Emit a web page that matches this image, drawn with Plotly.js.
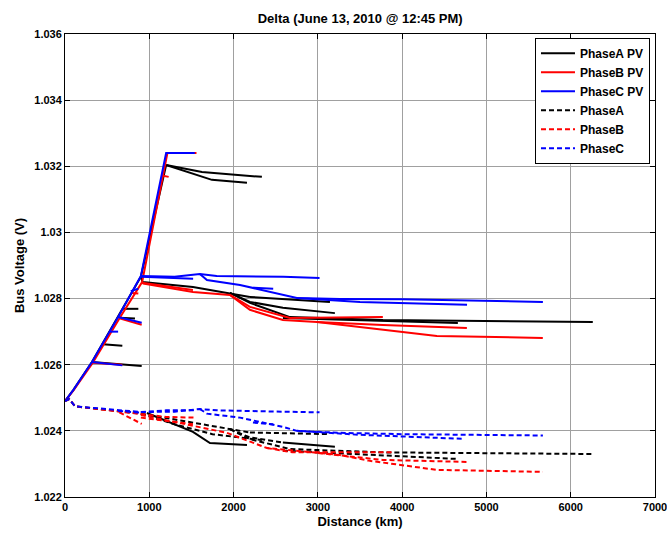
<!DOCTYPE html>
<html>
<head>
<meta charset="utf-8">
<script src="https://cdn.plot.ly/plotly-3.0.1.min.js"></script>
<style>html,body{margin:0;padding:0;background:#fff;}#chart{width:667px;height:535px;}</style>
</head>
<body>
<div id="chart"></div>
<script>
// ---- Data (distance km, bus voltage V); null separates feeder branches ----
var pvA_x = [0,100,320,630,900,1200, null, 1200,1625,2336, null, 1200,1743,2159, null, 900,920,1518,1957,2194, null, 2194,2704,3143, null, 1957,2194,2585,3202, null, 1957,2194,2669,3771,6262, null, 2585,4661, null, 320,910, null, 450,680, null, 690,870, null, 640,830];
var pvA_y = [1.0249,1.02524,1.02608,1.02744,1.02866,1.03204, null, 1.03204,1.03183,1.03168, null, 1.03204,1.03159,1.0315, null, 1.02866,1.0285,1.02835,1.02817,1.02805, null, 1.02805,1.02796,1.0279, null, 1.02817,1.0279,1.02772,1.02756, null, 1.02817,1.02787,1.02744,1.02735,1.02729, null, 1.02741,1.02726, null, 1.02608,1.02596, null, 1.02662,1.02657, null, 1.02769,1.02769, null, 1.02742,1.0274];

var pvB_x = [0,100,330,645,915,1215,1560, null, 915,930,1518,1957,2194,2585,2989,3499,4412,5669, null, 2989,3771,4768, null, 1957,2194,2669,3771, null, 915,1518, null, 330,680, null, 645,910, null, 790,870, null, 1150,1230];
var pvB_y = [1.0249,1.02522,1.02606,1.0274,1.0285,1.0324,1.0324, null, 1.0285,1.02845,1.0282,1.02811,1.02766,1.02735,1.02729,1.02714,1.02687,1.02681, null, 1.02729,1.0272,1.02711, null, 1.02811,1.02775,1.02741,1.02744, null, 1.02848,1.02826, null, 1.02606,1.026, null, 1.0274,1.02721, null, 1.02817,1.02815, null, 1.03172,1.03168];

var pvC_x = [0,100,320,630,900,1200,1540, null, 900,1300,1600,1800,2590,3020, null, 1600,1684,2076,2585,2751,3261,4000,5670, null, 2751,3500,4770, null, 900,1520, null, 2230,2470, null, 320,680, null, 530,630, null, 630,910, null, 780,870];
var pvC_y = [1.0249,1.02524,1.02608,1.02744,1.02868,1.0324,1.0324, null, 1.02868,1.02866,1.02874,1.02868,1.02866,1.02862, null, 1.02874,1.02856,1.02841,1.02811,1.02802,1.02799,1.02798,1.0279, null, 1.02802,1.0279,1.02781, null, 1.02866,1.0286, null, 1.02833,1.0283, null, 1.02608,1.02598, null, 1.027,1.027, null, 1.02744,1.02727, null, 1.02822,1.0283];

var A_x = [0,50,120,900, null, 900,1300,1750,2336, null, 900,1518,1957,2194, null, 2194,2704,3143, null, 1957,2194,2585, null, 1957,2194,2669,3771,6262, null, 2585,4661];
var A_y = [1.0249,1.02496,1.02474,1.02452, null, 1.02452,1.0242,1.0239,1.02372, null, 1.02452,1.02425,1.02405,1.02395, null, 1.02395,1.02392,1.0239, null, 1.02405,1.0238,1.02365, null, 1.02405,1.02375,1.02345,1.02335,1.0233, null, 1.0234,1.02315];
var Adense_x = [972,1518,1720,2159, null, 2585,3202];
var Adense_y = [1.02454,1.02397,1.02363,1.02357, null, 1.02365,1.02352];

var B_x = [0,50,120,900,1200,1540, null, 900,1482,1921,2396,2700,3261,3600,4412,5669, null, 2396,2700,3890, null, 3000,3771,4768, null, 900,1518, null, 645,910];
var B_y = [1.0249,1.02496,1.02474,1.0245,1.02442,1.0244, null, 1.02448,1.02418,1.02394,1.02348,1.0234,1.02327,1.0231,1.02282,1.02276, null, 1.02348,1.02335,1.02335, null, 1.02333,1.02312,1.02306, null, 1.0244,1.0242, null, 1.02456,1.02421];

var C_x = [0,50,120,900,1200,1540, null, 900,1300,1600,1800,2590,3020, null, 1600,1684,2076,2585,2751,3261,4000,5670, null, 2751,3500,4720, null, 2230,2470, null, 630,910];
var C_y = [1.0249,1.02496,1.02474,1.02457,1.02462,1.02462, null, 1.02457,1.02458,1.02466,1.02462,1.02458,1.02456, null, 1.02466,1.02452,1.0244,1.02412,1.024,1.02394,1.0239,1.02386, null, 1.024,1.02388,1.02376, null, 1.02425,1.0242, null, 1.0246,1.02455];

var xTicks = [0,1000,2000,3000,4000,5000,6000,7000];
var xTickText = ['0','1000','2000','3000','4000','5000','6000','7000'];
var yTicks = [1.022,1.024,1.026,1.028,1.03,1.032,1.034,1.036];
var yTickText = ['1.022','1.024','1.026','1.028','1.03','1.032','1.034','1.036'];

var seriesNames = ['PhaseA PV','PhaseB PV','PhaseC PV','PhaseA','PhaseB','PhaseC'];

// ---- Styles ----
var FONT = 'Liberation Sans, Arial, Helvetica, sans-serif';
var DASH = '5px,3px';
var LW = 2;
function tr(x, y, name, color, dash, show) {
  return {x: x, y: y, name: name, type: 'scatter', mode: 'lines',
    connectgaps: false, showlegend: show !== false, hoverinfo: 'skip',
    line: {color: color, width: LW, dash: dash}};
}
var traces = [
  tr(pvA_x, pvA_y, seriesNames[0], '#000000', 'solid'),
  tr(pvB_x, pvB_y, seriesNames[1], '#ff0000', 'solid'),
  tr(pvC_x, pvC_y, seriesNames[2], '#0000ff', 'solid'),
  tr(A_x, A_y, seriesNames[3], '#000000', DASH),
  tr(Adense_x, Adense_y, seriesNames[3], '#000000', 'solid', false),
  tr(B_x, B_y, seriesNames[4], '#ff0000', DASH),
  tr(C_x, C_y, seriesNames[5], '#0000ff', DASH)
];

var axisCommon = {
  showline: true, linecolor: '#000', linewidth: 1, mirror: 'ticks',
  ticks: 'inside', ticklen: 5, tickcolor: '#000', tickwidth: 1,
  showgrid: true, gridcolor: '#a0a0a0', gridwidth: 1, zeroline: false,
  ticklabeloverflow: 'allow',
  tickfont: {family: FONT, size: 11, color: '#000', weight: 'bold'}
};
var layout = {
  width: 667, height: 535,
  margin: {l: 65, r: 12, t: 34, b: 38},
  paper_bgcolor: '#fff', plot_bgcolor: '#fff',
  title: {text: 'Delta (June 13, 2010 @ 12:45 PM)', x: 0.54, xanchor: 'center',
    y: 1 - 18/535, yanchor: 'middle',
    font: {family: FONT, size: 13, color: '#000', weight: 'bold'}},
  xaxis: Object.assign({}, axisCommon, {
    range: [0, 7000], tickvals: xTicks, ticktext: xTickText, automargin: false,
    title: {text: 'Distance (km)', standoff: 4,
      font: {family: FONT, size: 13, color: '#000', weight: 'bold'}}
  }),
  yaxis: Object.assign({}, axisCommon, {
    range: [1.022, 1.036], tickvals: yTicks, ticktext: yTickText, automargin: false,
    title: {text: 'Bus Voltage (V)', standoff: 6,
      font: {family: FONT, size: 13, color: '#000', weight: 'bold'}}
  }),
  legend: {x: 0.9915, xanchor: 'right', y: 0.992, yanchor: 'top',
    bgcolor: '#fff', bordercolor: '#000', borderwidth: 1,
    font: {family: FONT, size: 12, color: '#000', weight: 'bold'},
    itemwidth: 34, tracegroupgap: 0},
  showlegend: true
};
Plotly.newPlot('chart', traces, layout, {displayModeBar: false, staticPlot: true});
</script>
</body>
</html>
